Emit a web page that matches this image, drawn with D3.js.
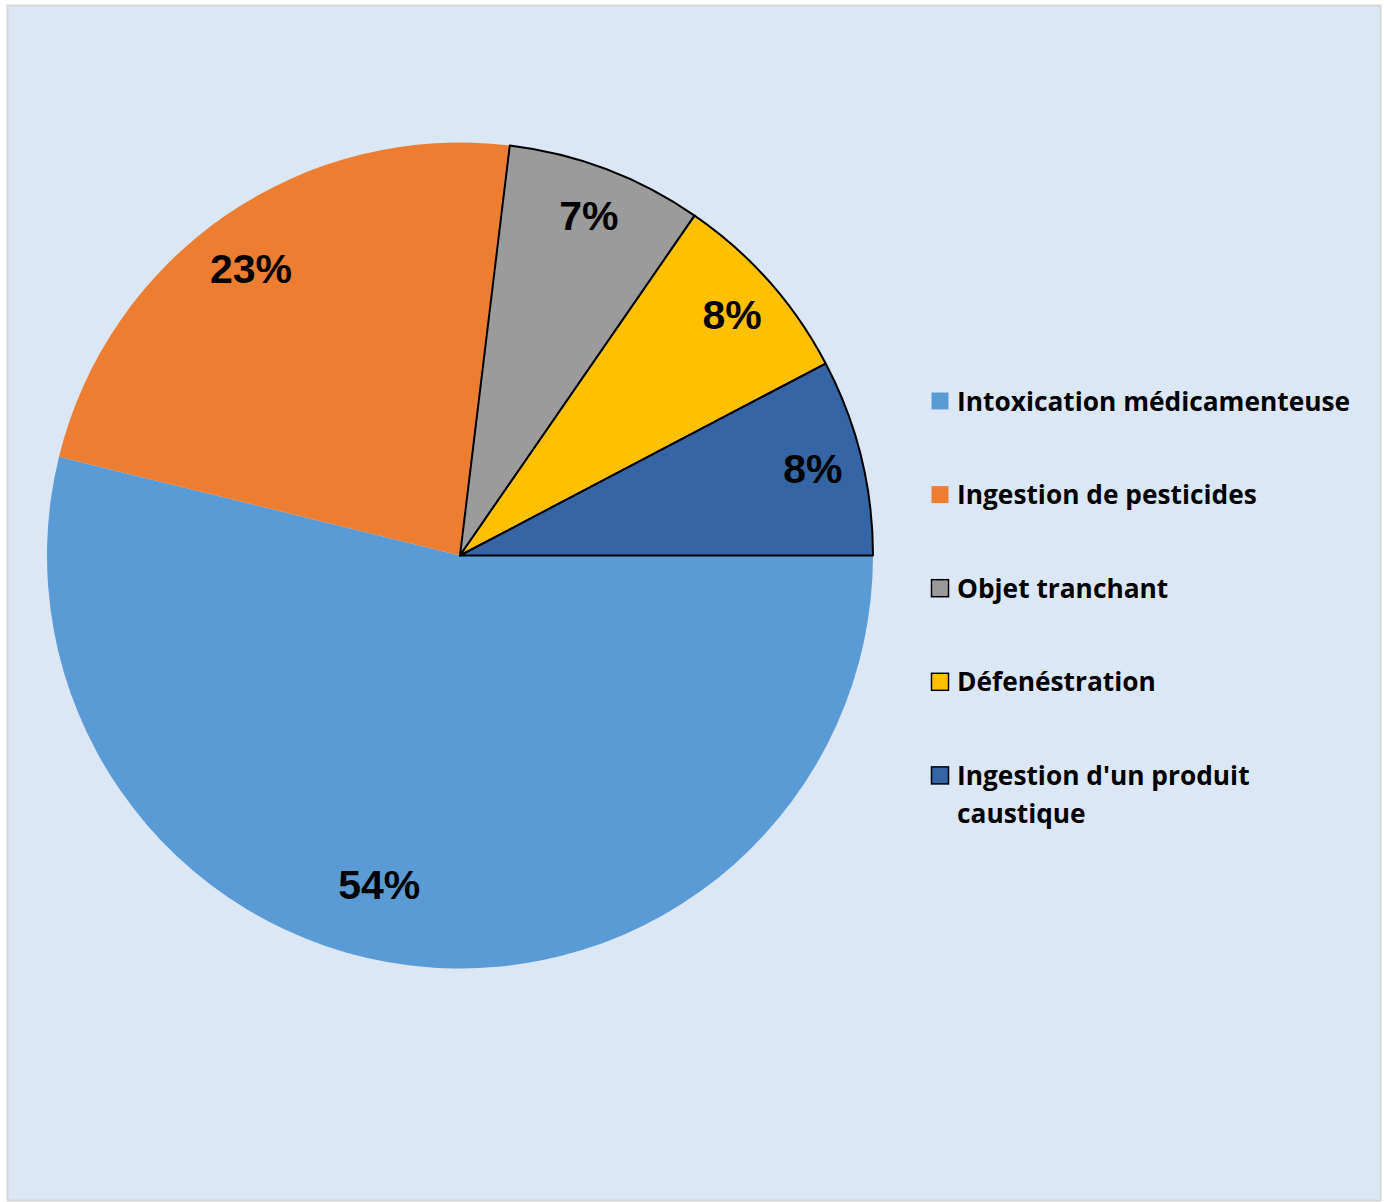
<!DOCTYPE html>
<html><head><meta charset="utf-8">
<script src="https://cdn.jsdelivr.net/npm/d3@7"></script>
<style>html,body{margin:0;padding:0;background:#fff;}svg{display:block;}</style>
</head><body>
<svg id="c" width="1384" height="1202"></svg>
<script>
const categories = ["Intoxication médicamenteuse","Ingestion de pesticides","Objet tranchant","Défenéstration","Ingestion d'un produit caustique"];
const counts = [7, 3, 1, 1, 1];
const pctLabels = ["54%","23%","7%","8%","8%"];
const colors = ["#5b9bd5","#ed7d31","#9b9b9b","#ffc000","#3565a5"];
const outlined = [false,false,true,true,true];

const svg = d3.select("#c");
svg.append("rect").attr("x",7.5).attr("y",5.5).attr("width",1373).attr("height",1195)
  .attr("fill","#dce7f5").attr("stroke","#d6d6d6").attr("stroke-width",2);

const cx = 460, cy = 555.5, R = 413;
const g = svg.append("g").attr("transform",`translate(${cx},${cy})`);
const pie = d3.pie().sort(null).value(d=>d).startAngle(Math.PI/2).endAngle(Math.PI/2+2*Math.PI);
const arcs = pie(counts);
const arc = d3.arc().innerRadius(0).outerRadius(R);

g.selectAll("path.s").data(arcs).join("path").attr("class","s")
  .attr("d",arc).attr("fill",(d,i)=>colors[i])
  .attr("stroke",(d,i)=>outlined[i]?"#000":"none").attr("stroke-width",2).attr("stroke-linejoin","round");

// labels
const labelR = 0.88*R;
g.selectAll("text.l").data(arcs).join("text").attr("class","l")
  .each(function(d,i){
    let a = (d.startAngle+d.endAngle)/2, r = labelR;
    if (i===0){ a += 0.12; r = 0.82*R; }
    if (i===1){ a -= 0.025; r = 0.86*R; }
    d3.select(this).attr("x",Math.sin(a)*r).attr("y",-Math.cos(a)*r);
  })
  .attr("text-anchor","middle").attr("dy","0.36em")
  .attr("font-family","Liberation Sans, Arial, sans-serif").attr("font-weight","bold")
  .attr("font-size",41).attr("fill","#000").text((d,i)=>pctLabels[i]);

// legend
const lx = 931, ly0 = 401, lstep = 93.6, sq = 17;
const lg = svg.append("g");
categories.forEach((c,i)=>{
  const y = ly0 + i*lstep;
  lg.append("rect").attr("x",lx+0.5).attr("y",y-sq/2).attr("width",sq).attr("height",sq)
    .attr("fill",colors[i]).attr("stroke",outlined[i]?"#000":"none").attr("stroke-width",1.5);
  const t = lg.append("text").attr("x",957).attr("y",y+9.5)
    .attr("font-family","'Open Sans', sans-serif").attr("font-weight","bold")
    .attr("font-size",26.3).attr("fill","#000").style("font-variant-ligatures","none");
  const words = c.split(" ");
  let line = [], ts = t.append("tspan").attr("x",957);
  words.forEach(w=>{
    line.push(w); ts.text(line.join(" "));
    if (ts.node().getComputedTextLength() > 405 && line.length>1){
      line.pop(); ts.text(line.join(" ")); line=[w];
      ts = t.append("tspan").attr("x",957).attr("dy",38).text(w);
    }
  });
});
</script>
</body></html>
